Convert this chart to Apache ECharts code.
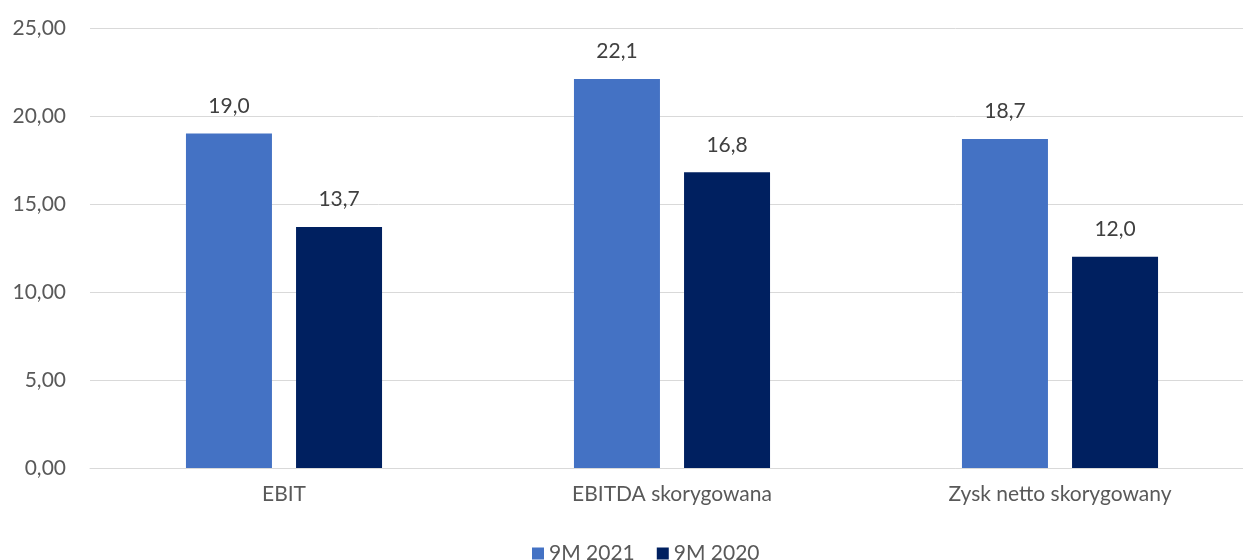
<!DOCTYPE html>
<html>
<head>
<meta charset="utf-8">
<script src="https://cdn.jsdelivr.net/npm/echarts@6/dist/echarts.min.js"></script>
<style>html,body{margin:0;padding:0;background:#fff;}</style>
</head>
<body>
<div id="main" style="width:1243px;height:560px;"></div>
<script>
var categories = ['EBIT', 'EBITDA skorygowana', 'Zysk netto skorygowany'];
var seriesNames = ['9M 2021', '9M 2020'];
var values2021 = [19.0, 22.1, 18.7];
var values2020 = [13.7, 16.8, 12.0];
var colors = ['#4472C4', '#002060'];

var font = 'Lato, "Open Sans", sans-serif';
var fmt1 = function (v) { return v.toFixed(1).replace('.', ','); };

var chart = echarts.init(document.getElementById('main'));
chart.setOption({
    animation: false,
    textStyle: { fontFamily: font },
    legend: {
        top: 538,
        left: 527,
        itemWidth: 12,
        itemHeight: 12,
        itemGap: 22,
        icon: 'rect',
        textStyle: { fontSize: 21, color: '#595959', fontFamily: font },
        data: seriesNames
    },
    grid: { left: 90, width: 1164, top: 28, bottom: 92, outerBoundsMode: 'none' },
    xAxis: {
        type: 'category',
        data: categories,
        axisTick: { show: false },
        axisLine: { lineStyle: { color: '#d9d9d9', width: 1 } },
        axisLabel: { fontSize: 21, color: '#595959', margin: 16, fontFamily: font }
    },
    yAxis: {
        type: 'value',
        min: 0, max: 25, interval: 5,
        axisLabel: {
            fontSize: 21, color: '#595959', margin: 24, fontFamily: font,
            formatter: function (v) { return v.toFixed(2).replace('.', ','); }
        },
        splitLine: { lineStyle: { color: '#d9d9d9', width: 1 } }
    },
    series: [
        {
            name: seriesNames[0], type: 'bar', data: values2021,
            itemStyle: { color: colors[0] },
            barWidth: 86, barGap: '28%',
            label: { show: true, position: 'top', distance: 17, fontSize: 21, color: '#404040', fontFamily: font,
                formatter: function (p) { return fmt1(p.value); } }
        },
        {
            name: seriesNames[1], type: 'bar', data: values2020,
            itemStyle: { color: colors[1] },
            barWidth: 86,
            label: { show: true, position: 'top', distance: 17, fontSize: 21, color: '#404040', fontFamily: font,
                formatter: function (p) { return fmt1(p.value); } }
        }
    ]
});
</script>
</body>
</html>
